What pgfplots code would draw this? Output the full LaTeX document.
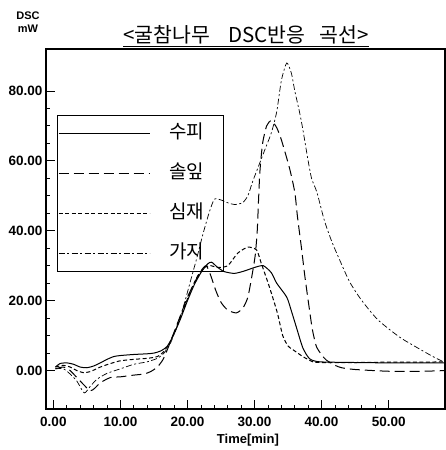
\documentclass[border=0pt]{standalone}
\usepackage{pgfplots}
\pgfplotsset{compat=1.18}
\usepackage{fontspec}
\setmainfont{Liberation Sans}
\newfontfamily\kr{Noto Sans CJK KR}

\begin{document}
\begin{tikzpicture}
\begin{axis}[
    at={(0,0)}, anchor=south west,
    scale only axis,
    width=399pt, height=360pt,
    xmin=-1.1, xmax=58.4,
    ymin=-11, ymax=92,
    xtick={0,10,...,50}, ytick={0,20,...,80},
    minor x tick num=4, minor y tick num=3,
    xtick pos=bottom, ytick pos=left,
    major tick length=9pt, minor tick length=4pt,
    tick style={black, line width=0.8pt},
    axis line style={line width=1.2pt},
    /pgf/number format/.cd, fixed, fixed zerofill, precision=2, assume math mode=true,
    /pgfplots/.cd,
    ticklabel style={font=\bfseries\fontsize{13.5}{13.5}\selectfont},
    xticklabel style={yshift=-5pt},
    xlabel={Time[min]},
    xlabel style={font=\bfseries\fontsize{13}{13}\selectfont, at={(axis description cs:0.506,0)}, anchor=center, yshift=-31pt},
    legend image code/.code={\draw[#1, line width=1.6pt] (0pt,0pt) -- (91pt,0pt);},
    legend style={at={(0.0276,0.8167)}, anchor=north west, draw=black, line width=1.4pt, fill=none,
        inner xsep=0pt, inner ysep=10pt, row sep=24pt,
        font=\kr\fontsize{19}{19}\selectfont,
        nodes={inner xsep=0pt, inner ysep=0pt, text height=13pt, text depth=3pt,
               text width=73pt, align=center}},
    legend cell align=left,
]
% 수피
\addplot[black, line width=1pt, smooth, tension=0.4] coordinates {
(0.3,1) (1,2) (2,2.2) (3,1.8) (4,1.0) (5,0.8) (6,1.3) (7,2.2) (8,3.2) (9,4) (10,4.3)
(12,4.6) (14,4.8) (15,5) (16,5.6) (17,7) (18,10.5) (19,15) (20,20) (21,24.5) (22,28)
(23,30.5) (23.6,31) (24.5,29.5) (25.5,28.3) (27,27.8) (28.5,28.5) (30,29.5) (31.3,30)
(32.5,28) (33.3,25) (34.8,21) (35.5,17) (36.3,12) (37.2,6.5) (38.2,3.4) (39.7,2.5)
(45,2.3) (50,2.2) (55,2.2) (58.5,2.2)};
\addlegendentry{수피}
% 솔잎
\addplot[black, line width=1pt, dash pattern=on 10pt off 5pt, smooth, tension=0.4] coordinates {
(0.3,0.5) (1.5,1) (2.5,0) (3.5,-2) (4.5,-4) (5.5,-5.8) (6.2,-5) (7,-3.5) (8.5,-2) (10,-1.8)
(12,-1.3) (13.5,-1) (14.5,-0.3) (15.5,1) (16.3,3) (17,6) (18,11) (19,16) (20,21) (21,25)
(22,28.5) (22.8,30) (23.5,27) (24.2,23) (25,19.5) (26,17.3) (27.3,16.5) (28.3,18) (29,21)
(29.6,27) (30.1,33) (30.4,40) (30.6,49) (30.8,57) (31.2,65) (31.8,70) (32.5,71.5)
(33.3,69.5) (34,66) (35.2,58) (36,51) (36.4,44) (37,35) (37.5,27) (38,20) (38.6,12)
(39.2,7) (40,4.5) (40.7,3) (42,1.5) (43,0.8) (45,0.3) (50,-0.2) (55,-0.2) (58.5,0)};
\addlegendentry{솔잎}
% 심재
\addplot[black, line width=1pt, dash pattern=on 4pt off 2.5pt, smooth, tension=0.4] coordinates {
(0.3,1) (1.5,1.5) (2.5,1) (3.5,0) (4.5,-0.6) (5.5,-0.3) (7,1) (8.5,2) (10,2.8) (12,3.2)
(14,3.5) (15.5,4) (16.5,5.5) (17.5,8.5) (18.5,13) (19.5,18) (20.5,23) (21.5,27) (22.5,29.5)
(23.5,30) (24.5,29.5) (26,30) (27.5,33.6) (29,35.3) (30.3,34.5) (31,30.7) (32.2,24)
(33.4,16.5) (34.2,10) (35,7) (35.7,6) (37.2,4) (38.7,2.5) (40,2.3) (45,2.3) (50,2.4)
(55,2.4) (58.5,2.5)};
\addlegendentry{심재}
% 가지
\addplot[black, line width=0.7pt, dash pattern=on 6pt off 2.5pt on 2pt off 2.5pt, smooth, tension=0.4] coordinates {
(0.3,0.5) (1.5,0.5) (2.5,-1) (3.5,-3) (4.6,-6.4) (5.5,-4.5) (6.5,-2.5) (8,-0.8) (10,0.5)
(12,1.8) (14,2.5) (15.5,3.5) (16.5,5) (17.5,8) (18.5,13) (19.5,19) (20.5,26) (21.5,33)
(22.3,39) (23.2,45) (24,49) (25,48.8) (26,48) (27,47.5) (28.2,48) (29,50) (29.7,54)
(30.5,58) (31.5,63) (32.5,68) (33.3,74) (34,83) (34.8,88) (35.5,85) (36,80) (36.7,74)
(37.2,69) (37.9,61) (38.5,55) (39.3,51) (40.4,43) (41.5,37) (42.7,31.6) (44.2,25.3)
(46,20) (48.4,14.5) (51.6,9.6) (54.3,6.5) (56.6,4) (58.5,2.2)};
\addlegendentry{가지}
\end{axis}
\node[font=\kr\fontsize{20.5}{20.5}\selectfont] at (200pt,373pt)
  {\underline{<굴참나무\hspace{0.9em}DSC반응\hspace{0.7em}곡선>}};
\node[font=\bfseries\fontsize{11}{13}\selectfont, align=center] at (-18pt,387pt) {DSC\\mW};
\pgfresetboundingbox
\useasboundingbox (-46pt,-41pt) rectangle (399pt,409pt);
\end{tikzpicture}
\end{document}
